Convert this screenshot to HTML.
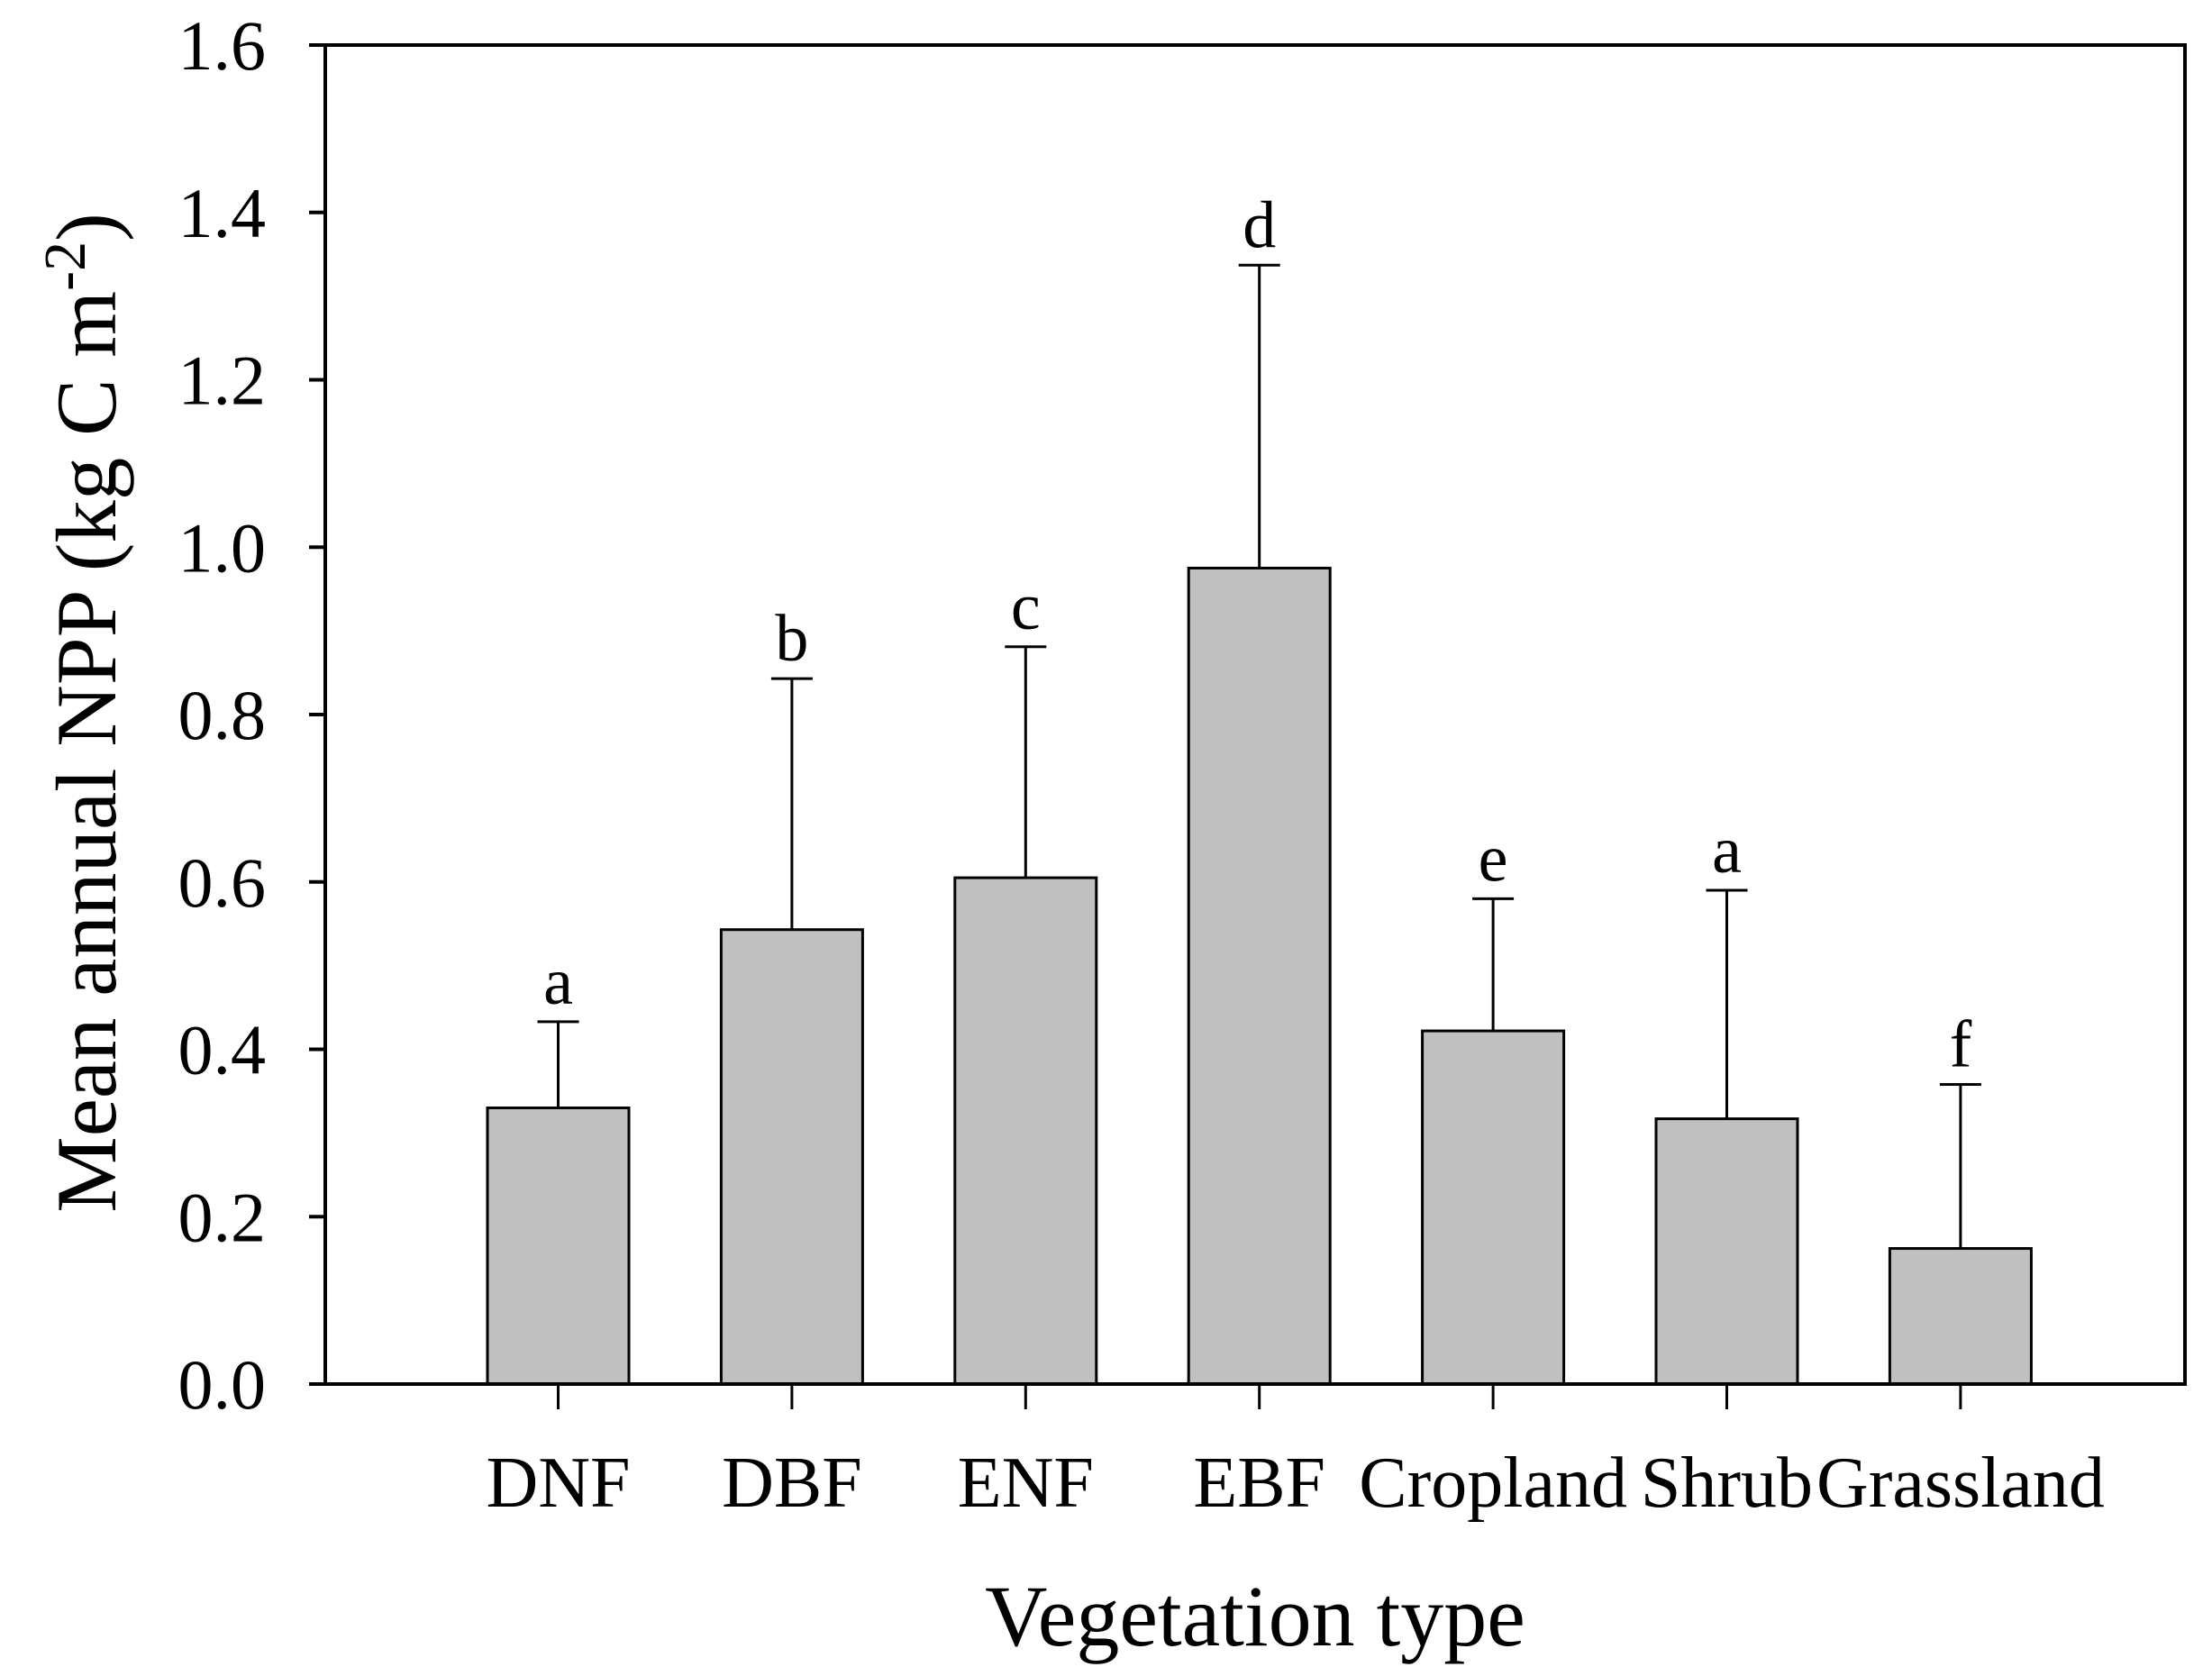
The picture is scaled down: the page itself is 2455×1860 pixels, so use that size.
<!DOCTYPE html>
<html><head><meta charset="utf-8"><style>
html,body{margin:0;padding:0;background:#fff;}
svg text{font-family:"Liberation Serif",serif;fill:#000;}
</style></head><body>
<svg id="chart" width="2455" height="1855" xmlns="http://www.w3.org/2000/svg">
<g id="plot"></g>
</svg>
<script>
const categories=["DNF","DBF","ENF","EBF","Cropland","Shrub","Grassland"];
const meanValues=[0.33,0.543,0.605,0.975,0.422,0.317,0.162];
const errorTops=[0.433,0.843,0.881,1.337,0.58,0.59,0.358];
const sigLetters=["a","b","c","d","e","a","f"];
const yTicks=[0,0.2,0.4,0.6,0.8,1.0,1.2,1.4,1.6];
const yTickLabels=["0.0","0.2","0.4","0.6","0.8","1.0","1.2","1.4","1.6"];

const NS="http://www.w3.org/2000/svg";
const g=document.getElementById('plot');
const L=361,R=2425,T=50,B=1536;
const y=v=>B-(v/1.6)*(B-T);
const x=i=>619.5+i*259.4;
const bw=157;
function el(tag,attrs,txt){const e=document.createElementNS(NS,tag);for(const k in attrs)e.setAttribute(k,attrs[k]);if(txt!==undefined)e.textContent=txt;g.appendChild(e);return e;}

categories.forEach((c,i)=>{
  const top=y(errorTops[i]),m=y(meanValues[i]);
  const eb=el('line',{x1:x(i),x2:x(i),y1:m,y2:top,stroke:'#000','stroke-width':3});
  
  
  const cap=el('line',{x1:x(i)-23,x2:x(i)+23,y1:top,y2:top,stroke:'#000','stroke-width':3});
  
  
  const bar=el('rect',{x:x(i)-bw/2,y:m,width:bw,height:B-m,fill:'#c0c0c0',stroke:'#000','stroke-width':3});
  
  
  const lt=el('text',{x:x(i),y:top-20,'font-size':74,'text-anchor':'middle'},sigLetters[i]);
  
  
  const tk=el('line',{x1:x(i),x2:x(i),y1:B,y2:B+28,stroke:'#000','stroke-width':3});
  
  
  const xl=el('text',{x:x(i),y:1672,'font-size':80,'text-anchor':'middle'},c);
  
  
});
yTicks.forEach((v,i)=>{
  const t=el('line',{x1:L-18,x2:L,y1:y(v),y2:y(v),stroke:'#000','stroke-width':4});
  
  
  const tl=el('text',{x:295,y:y(v)+27,'font-size':78,'text-anchor':'end'},yTickLabels[i]);
  
  
});
const frame=el('rect',{x:L,y:T,width:R-L,height:B-T,fill:'none',stroke:'#000','stroke-width':4});


const xt=el('text',{x:1393,y:1826,'font-size':96,'text-anchor':'middle'},'Vegetation type');


const yt=el('text',{x:0,y:0,'font-size':95,'text-anchor':'middle',transform:'translate(128,791) rotate(-90)'});


yt.innerHTML='Mean annual NPP (kg C m<tspan dy="-34" font-size="66">-2</tspan><tspan dy="34">)</tspan>';
</script>
</body></html>
